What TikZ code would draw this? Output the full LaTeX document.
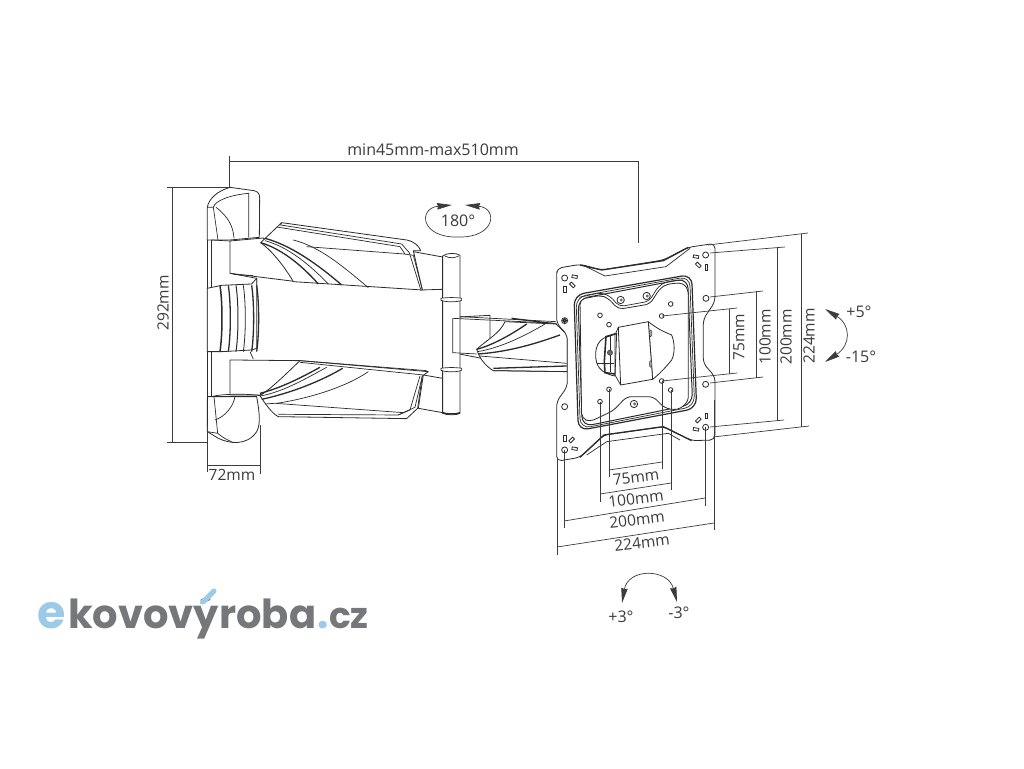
\documentclass[tikz,border=0pt]{standalone}
\usepackage{fontspec}
\setmainfont{Open Sans}
\newfontfamily\logofont{Poppins}
\usetikzlibrary{arrows.meta}
\definecolor{inkc}{HTML}{2B2B2B}
\definecolor{dimc}{HTML}{3C3C3C}
\definecolor{logogrey}{HTML}{75777A}
\definecolor{logoblue}{HTML}{9CCBE8}
\tikzset{
  part/.style={draw=inkc,line width=0.8pt,fill=white,line join=round},
  edge/.style={draw=inkc,line width=0.7pt},
  heavy/.style={draw=inkc,line width=1.3pt},
  dimline/.style={draw=dimc,line width=0.7pt},
  dimtext/.style={text=dimc,font=\fontsize{16}{17}\selectfont,inner sep=0pt},
  sizetext/.style={text=dimc,font=\fontsize{15.5}{16}\selectfont,inner sep=0pt},
  angtext/.style={text=dimc,font=\fontsize{16}{17}\selectfont,inner sep=0pt},
  hole/.style={draw=inkc,line width=0.8pt,fill=white},
  swing/.style={draw=dimc,line width=0.7pt,{Stealth[length=15pt,width=6.5pt,inset=1pt]}-{Stealth[length=15pt,width=6.5pt,inset=1pt]}},
  logotext/.style={inner sep=0pt,anchor=base west,font=\logofont\bfseries\fontsize{40}{40}\selectfont}
}
\begin{document}
\begin{tikzpicture}[x=1pt,y=-1pt]
\useasboundingbox[fill=white] (0,0) rectangle (1024,768);
% wall arms
\begin{scope}[shift={(150,130)},x=0.3333pt,y=-0.3333pt]
  \path[part] (172,232) .. controls (176,205) and (205,182) .. (240,172) -- (312,182)
    .. controls (325,185) and (329,192) .. (329,205) -- (328,322) -- (240,330) -- (190,330) -- (172,330) -- cycle;
  \path[edge] (190,232) .. controls (195,212) and (240,195) .. (296,190) -- (296,322);
  \path[edge] (172,232) -- (190,232) -- (204,330);
  \path[edge] (198,232) .. controls (235,260) and (250,290) .. (252,325);
  \path[part] (172,800) -- (172,905) -- (205,925) .. controls (235,940) and (290,950) .. (320,905)
    .. controls (335,880) and (325,830) .. (320,800) -- cycle;
  \path[edge] (192,800) -- (203,910) .. controls (215,920) and (230,930) .. (245,935);
  \path[edge] (195,870) .. controls (225,860) and (250,830) .. (255,800);
  \path[edge] (172,905) -- (203,910);
  \path[edge] (172,330) -- (172,905);
  % upper hinge bracket
  \path[edge] (185,330) -- (185,470);
  \path[edge] (185,665) -- (185,800);
  \path[part] (240,333) -- (340,324) -- (440,455) -- (240,430) -- cycle;
  \path[edge] (185,330) -- (240,333);
  \path[edge] (240,430) -- (320,445) -- (320,465);
  \path[edge] (250,433) -- (310,437);
  \path[part] (240,690) -- (450,692) -- (430,740) -- (330,795) -- (240,795) -- cycle;
  \path[edge] (185,800) .. controls (210,792) and (290,790) .. (330,797);
  \path[edge] (300,665) -- (310,687);
  % ribbed centre block
  \path[part] (172,475) -- (215,466) -- (305,462) -- (320,445) -- (320,655) -- (305,660) -- (215,665) -- (172,665) -- cycle;
  \foreach \X/\Y in {210/1.5,235/1.3,258/1,280/0.8,305/1.3,320/1.3}
    {\draw[inkc,line width=\Y pt] (\X,466) .. controls (\X+8,520) and (\X+8,610) .. (\X,665);}
  % post and forearm ends
  \path[part] (790,365) -- (878,381) -- (878,478) -- (812,480) -- cycle;
  \path[part] (820,735) -- (878,745) -- (878,848) -- (805,835) -- cycle;
  \path[part] (908,562) -- (1020,556) -- (1020,690) -- (908,668) -- cycle;
  \path[part] (878,378) -- (878,850) .. controls (890,856) and (920,856) .. (930,850) -- (930,376) .. controls (920,368) and (890,368) .. (878,378) -- cycle;
  \path[edge] (884,378) .. controls (900,386) and (915,384) .. (926,378);
  \path[heavy] (878,848) .. controls (890,853) and (920,853) .. (930,848);
  \foreach \Y in {505,715}
    {\path[edge,fill=white] (873,\Y) .. controls (890,\Y-3) and (920,\Y-3) .. (935,\Y) -- (935,\Y+6) .. controls (920,\Y+12) and (890,\Y+12) .. (873,\Y+6) -- cycle;}
  % upper cover
  \path[part] (332,338) -- (395,278) -- (770,330) .. controls (795,335) and (808,350) .. (812,362) -- (790,362) -- (817,480) -- (430,455) .. controls (410,420) and (370,365) .. (332,338) -- cycle;
  \path[edge] (395,278) -- (392,285) -- (755,342);
  \path[edge] (380,291) -- (750,350) -- (765,372);
  \path[edge] (470,350) -- (762,372) -- (790,376) -- (817,478);
  \path[edge] (755,342) -- (778,368) -- (812,478);
  \path[heavy] (332,338) .. controls (390,355) and (450,400) .. (505,462);
  \path[edge] (345,332) .. controls (410,350) and (470,395) .. (535,462);
  \path[heavy] (345,325) .. controls (420,345) and (500,400) .. (575,465);
  \path[edge] (430,330) .. controls (510,350) and (580,410) .. (655,473);
  % lower cover
  \path[part] (330,797) .. controls (365,775) and (410,730) .. (450,692) -- (835,725) -- (817,738) -- (803,835) -- (770,866) -- (385,860) .. controls (365,850) and (345,820) .. (330,797) -- cycle;
  \path[edge] (450,697) -- (820,735);
  \path[edge] (345,822) -- (375,820) -- (760,848) -- (745,855) -- (385,853);
  \path[edge] (760,848) -- (795,832) -- (817,738);
  \path[edge] (745,855) -- (780,840) -- (810,738);
  \path[heavy] (330,790) .. controls (390,775) and (450,745) .. (510,712);
  \path[edge] (332,798) .. controls (400,785) and (460,750) .. (530,712);
  \path[heavy] (335,808) .. controls (420,790) and (510,755) .. (578,715);
  \path[edge] (380,820) .. controls (480,805) and (590,770) .. (655,725);
  \path[edge] (450,692) -- (830,722);
\end{scope}
% screen plate and short arm
\begin{scope}[shift={(430,220)},x=0.3333pt,y=-0.3333pt]
  \path[edge] (68,295) -- (380,310);
  \path[edge] (90,290) -- (245,298) -- (378,305);
  \path[heavy] (245,295) -- (378,312);
  \path[edge] (68,295) -- (68,398) -- (140,402);
  \path[part] (140,388) .. controls (170,360) and (210,340) .. (225,305) -- (378,312) -- (412,345) -- (412,455) -- (190,452) .. controls (170,440) and (150,420) .. (140,388) -- cycle;
  \path[heavy] (140,388) .. controls (190,375) and (250,340) .. (290,312);
  \path[edge] (142,395) .. controls (210,385) and (290,345) .. (345,312);
  \path[heavy] (145,402) .. controls (240,395) and (320,370) .. (390,345);
  \path[edge] (150,408) -- (410,430);
  \path[heavy] (190,445) -- (410,438);
  \path[edge] (190,452) -- (412,455);
  \path[part,rounded corners=5pt] (380,170) -- (380,145) -- (452,133) -- (515,150) -- (700,120) -- (775,82) -- (855,70) -- (855,245) -- (820,298) -- (820,430) -- (855,470) -- (855,660) -- (785,662) -- (700,620) -- (522,645) -- (450,712) -- (380,724) -- (380,545) -- (412,500) -- (412,345) -- (380,310) -- cycle;
  \path[edge] (458,135) -- (525,168) -- (708,140) -- (780,85);
  \path[heavy] (450,135) -- (515,150) -- (700,122) -- (775,82);
  \path[heavy] (450,712) -- (522,645) -- (700,620) -- (785,662);
  \path[edge] (470,705) -- (530,665) -- (715,640) -- (750,660);
  % pressed frame
  \foreach \W/\I in {1.2/0,0.7/6,1/12}
    {\path[draw=inkc,line width=\W pt,rounded corners=10pt] (432+\I,225+\I) -- (785-\I,163+\I) -- (800-\I,565-\I) -- (445+\I,632-\I) -- cycle;}
  \path[edge,rounded corners=5pt] (448,232) -- (512,218) -- (540,228) -- (568,260) -- (657,244) -- (686,198) -- (712,184) -- (760,180);
  \path[part,rounded corners=5pt] (450,238) -- (512,226) -- (535,235) -- (565,268) -- (660,252) -- (690,205) -- (712,192) -- (760,188) -- (775,210) -- (775,545) -- (745,570) -- (705,565) -- (670,530) -- (590,530) -- (550,572) -- (480,605) -- (455,595) -- cycle;
  % tilt head
  \path[part] (520,355) .. controls (505,365) and (497,380) .. (497,405) .. controls (497,435) and (510,460) .. (555,468) -- (560,340) -- cycle;
  \path[draw=inkc,line width=1.6pt] (555,342) -- (528,350) -- (523,425) -- (525,458) -- (555,462);
  \path[draw=inkc,line width=1.2pt] (500,430) -- (552,430);
  \path[edge] (540,345) -- (540,455);
  \path[draw=inkc,fill=inkc!70] (540,398) circle[radius=8];
  \path[part] (655,305) .. controls (680,325) and (700,335) .. (725,345) .. controls (735,370) and (735,400) .. (725,420) .. controls (705,445) and (685,465) .. (668,478) -- cycle;
  \path[part] (565,322) -- (655,305) -- (668,478) -- (572,495) -- cycle;
  \path[edge] (565,322) -- (555,345) -- (555,465) -- (572,495);
  \foreach \X/\Y in {662/340,662/432}
    {\path[draw=inkc,fill=inkc!40] (\X,\Y) ellipse (4 and 10);}
  % holes
  \foreach \X/\Y in {510/286,537/314,695/288,722/252,695/483,722/510,537/508,510/545}
    {\path[hole] (\X,\Y) circle[radius=7];}
  \foreach \X/\Y in {572/240,650/228,612/552}
    {\path[hole] (\X,\Y) circle[radius=11];
     \path[fill=inkc!70] (\X+2,\Y) circle[radius=5];}
  \foreach \X/\Y in {404/174,827/105,828/235,827/493,827/622,404/690,404/302,404/560}
    {\path[hole] (\X,\Y) circle[radius=9];}
  \path[heavy,fill=inkc!60] (404,302) circle[radius=5];
  % corner slots
  \foreach \X/\Y/\A in {434/170/-10,405/208/-90,427/195/-45,798/110/-10,829/142/-90,805/135/-45,798/628/-10,829/587/90,805/600/45,434/686/-10,405/655/90,425/660/45}
    {\path[hole,rotate around={\A:(\X,\Y)}] (\X-8,\Y-4) rectangle (\X+8,\Y+4);}
\end{scope}
% dimension lines
\path[dimline] (229,156) -- (229,187);
\path[dimline] (229,161) -- (638,161) -- (638,243);
\path[dimline] (167,187) -- (229,187);
\path[dimline] (167,442) -- (208,442);
\path[dimline] (172,187) -- (172,442);
\path[dimline] (207,425) -- (207,472);
\path[dimline] (260,425) -- (260,474);
\path[dimline] (207,465) -- (260,465);
% vertical sizes
\path[dimline] (708,245) -- (808,233);
\path[dimline] (713,437) -- (809,426);
\path[dimline] (801,234) -- (801,427);
\path[dimline] (710,253) -- (785,247);
\path[dimline] (710,427) -- (784,420);
\path[dimline] (777,247) -- (777,421);
\path[dimline] (710,297) -- (763,291);
\path[dimline] (710,383) -- (763,377);
\path[dimline] (756,291) -- (756,378);
\path[dimline] (662,316) -- (737,308);
\path[dimline] (662,381) -- (737,373);
\path[dimline] (729,309) -- (729,374);
% horizontal sizes
\path[dimline] (557,458) -- (557,555);
\path[dimline] (714,400) -- (714,530);
\path[dimline] (557,547) -- (714,523);
\path[dimline] (564,450) -- (564,528);
\path[dimline] (705,427) -- (705,506);
\path[dimline] (564,521) -- (705,498);
\path[dimline] (600,402) -- (600,502);
\path[dimline] (671,390) -- (671,490);
\path[dimline] (600,494) -- (671,483);
\path[dimline] (609,389) -- (609,477);
\path[dimline] (662,381) -- (662,469);
\path[dimline] (609,470) -- (662,462);
% size labels
\node[dimtext] (widthlbl) at (433,150) {min45mm-max510mm};
\node[sizetext,rotate=90] (lbl292) at (163,303) {292mm};
\node[sizetext] (lbl72) at (232,475) {72mm};
\node[sizetext,rotate=90] (lblv75) at (739,337) {75mm};
\node[sizetext,rotate=90] (lblv100) at (765,337) {100mm};
\node[sizetext,rotate=90] (lblv200) at (786,337) {200mm};
\node[sizetext,rotate=90] (lblv224) at (809,336) {224mm};
\node[sizetext,rotate=7] (lblh75) at (636,477) {75mm};
\node[sizetext,rotate=7] (lblh100) at (636,499) {100mm};
\node[sizetext,rotate=7] (lblh200) at (637,520) {200mm};
\node[sizetext,rotate=7] (lblh224) at (642,543) {224mm};
% swing marks
\path[swing] (825,309) .. controls (851,325) and (851,345) .. (825,362);
\path[swing] (622,603) .. controls (628,568) and (668,568) .. (677,602);
\path[draw=dimc,line width=0.7pt,{Stealth[length=15pt,width=6.5pt,inset=1pt]}-{Stealth[length=15pt,width=6.5pt,inset=1pt]}] (452,205) .. controls (418,208) and (420,238) .. (458,237) .. controls (496,238) and (498,208) .. (465,205);
\node[dimtext] (lbl180) at (458,221) {180°};
\node[angtext] (lblp5) at (859,312) {+5°};
\node[angtext] (lblm15) at (861,357) {-15°};
\node[angtext] (lblp3) at (621,617) {+3°};
\node[angtext] (lblm3) at (679,613) {-3°};
% logo
\node[logotext,text=logoblue] (logoe) at (37,628) {\fontsize{46}{46}\selectfont e};
\node[logotext,text=logogrey] (logoname) at (68,628) {kovovýroba};
\node[logotext,text=logoblue] (logodot) at (317,628) {.};
\node[logotext,text=logogrey] (logocz) at (329,628) {\fontsize{36}{36}\selectfont cz};
\path[draw=logoblue,line width=5pt,line cap=round] (203,602) -- (214,591);
\end{tikzpicture}
\end{document}
